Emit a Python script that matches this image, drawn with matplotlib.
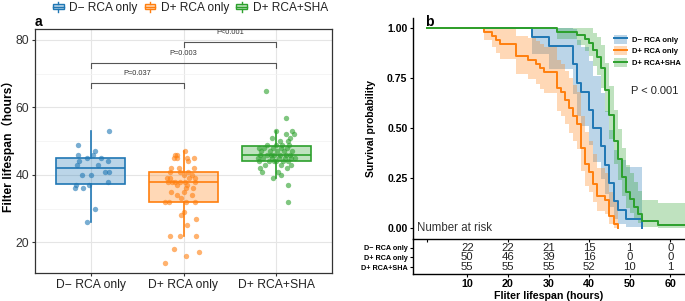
import numpy as np
import matplotlib.pyplot as plt
from matplotlib.colors import to_rgb
from matplotlib.patches import Patch, Rectangle
from matplotlib.lines import Line2D
from matplotlib.legend_handler import HandlerBase

plt.rcParams['font.family'] = ['Liberation Sans', 'Noto Sans CJK SC', 'DejaVu Sans']

# groups and colours (d3 palette)
groups = ['D\u2212 RCA only', 'D+ RCA only', 'D+ RCA+SHA']
colors = ['#1F77B4', '#FF7F0E', '#2CA02C']

# filter lifespan (hours)
life_dm = [53, 49, 46, 47, 46, 45, 45, 44, 43, 44, 41, 41, 40, 40, 38, 37, 36, 36, 37, 30, 26, 43]
jit_dm = [0.195, -0.133, -0.136, 0.043, 0.03, -0.036, 0.116, -0.13, -0.147, 0.188, 0.151, 0.195,
          -0.093, 0.0, 0.188, -0.155, -0.173, -0.079, -0.022, 0.051, -0.039, 0.08]

life_dp = [47, 46, 46, 45, 45, 45, 45, 44, 42, 42, 42, 41, 41, 41, 40, 40,
           39, 39, 39, 39, 38, 38, 38, 38, 38, 38, 37, 37, 36, 36, 35, 35, 34, 34, 33, 32, 32, 32, 32,
           29, 28, 27, 25, 22, 22, 22, 18, 17, 16, 14]
jit_dp = [0.014, -0.094, -0.065, -0.101, -0.065, 0.043, 0.108, 0.05, -0.137, -0.051, 0.115,
          -0.15, -0.036, 0.05, 0.0, 0.09,
          -0.18, -0.144, 0.057, 0.126, -0.166, -0.09, 0.014, 0.119, -0.12, -0.036,
          -0.072, 0.036, 0.022, 0.1, -0.137, 0.007, -0.065, 0.093, -0.025,
          -0.195, -0.159, 0.022, 0.119,
          0.007, -0.025, 0.137, 0.036, -0.144, -0.036, 0.137, -0.101, 0.166, 0.029, -0.202]

life_sha = [65, 57, 53, 53, 52, 52, 51, 51, 50, 50,
            49, 49, 49, 49, 48, 48, 48, 48, 48, 47, 47, 47, 47, 47,
            46, 46, 46, 46, 46, 46, 46, 45, 45, 45, 45, 45, 45, 45,
            44, 44, 44, 44, 44, 44, 43, 43, 43, 42, 42, 41, 41, 40, 39, 37, 32]
jit_sha = [-0.108, 0.1, 0.0, 0.173, 0.187, 0.1, -0.05, 0.15, 0.122, 0.036,
           -0.1, 0.0, 0.06, 0.14, -0.13, -0.04, 0.05, 0.12, -0.19, -0.16, -0.07, 0.01, 0.08, 0.17,
           -0.18, -0.1, -0.02, 0.04, 0.1, 0.15, -0.06, -0.2, -0.14, -0.05, 0.03, 0.09, 0.16, 0.2,
           -0.19, -0.08, 0.0, 0.07, 0.13, -0.03, 0.159, -0.12, 0.05, -0.172, 0.11, -0.158, 0.02,
           0.047, -0.04, 0.124, 0.124]

lifes = [life_dm, life_dp, life_sha]
jits = [jit_dm, jit_dp, jit_sha]

# pairwise comparisons: (group a, group b, bracket height, label)
comparisons = [(1, 2, 67.2, 'P=0.037'), (1, 3, 73.3, 'P=0.003'), (2, 3, 79.3, 'P<0.001')]

risk_times = [10, 20, 30, 40, 50, 60]


class BoxKey(HandlerBase):
    def create_artists(self, legend, orig_handle, xd, yd, w, h, fontsize, trans):
        c = orig_handle.get_edgecolor()
        x0, y0 = -xd, -yd
        bw = w * 0.85
        bx = x0 + (w - bw) / 2
        rect = Rectangle((bx, y0 + h * 0.22), bw, h * 0.56, facecolor=orig_handle.get_facecolor(),
                         edgecolor=c, lw=1.0, transform=trans)
        med = Line2D([bx, bx + bw], [y0 + h / 2] * 2, color=c, lw=1.0, transform=trans)
        wt = Line2D([x0 + w / 2] * 2, [y0 + h * 0.78, y0 + h * 1.05], color=c, lw=1.0, transform=trans)
        wb = Line2D([x0 + w / 2] * 2, [y0 - h * 0.05, y0 + h * 0.22], color=c, lw=1.0, transform=trans)
        return [rect, med, wt, wb]


def km(t):
    t = np.asarray(t, float)
    times = np.unique(t)
    n = np.array([(t >= u).sum() for u in times])
    d = np.array([(t == u).sum() for u in times])
    s = np.cumprod(1 - d / n)
    with np.errstate(divide='ignore', invalid='ignore'):
        se = np.sqrt(np.cumsum(d / (n * (n - d))))
        lo = s * np.exp(-1.96 * se)
        hi = np.minimum(1, s * np.exp(1.96 * se))
    x = np.r_[0, times]
    s = np.r_[1, s]
    lo = np.r_[1, lo]
    hi = np.r_[1, hi]
    for i in range(1, len(x)):
        if s[i] == 0 or not np.isfinite(hi[i]):
            lo[i], hi[i] = lo[i - 1], hi[i - 1]
    return x, s, lo, hi


fig = plt.figure(figsize=(6.85, 3.01), dpi=100)
W, H = 685, 301
axA = fig.add_axes([35 / W, 1 - 273 / H, 297 / W, 244 / H])
axB = fig.add_axes([413 / W, 1 - 239 / H, 272 / W, 221 / H])
axT = fig.add_axes([413 / W, 1 - 274 / H, 272 / W, 35 / H])

# ---------------- panel a ----------------
pos = [1, 2, 3]
for i in range(3):
    c = colors[i]
    bp = axA.boxplot([lifes[i]], positions=[pos[i]], widths=0.75, whis=1.5, showfliers=False,
                     showcaps=False, patch_artist=True, zorder=2)
    for b in bp['boxes']:
        b.set(facecolor=(*to_rgb(c), 0.3), edgecolor=c, lw=1.2)
    for m in bp['medians']:
        m.set(color=c, lw=1.2)
    for wk in bp['whiskers']:
        wk.set(color=c, lw=1.2)
    axA.scatter(pos[i] + np.array(jits[i]), lifes[i], s=15, color=c, alpha=0.6, lw=0, zorder=3)

for a, b, yb, lab in comparisons:
    axA.plot([a, a, b, b], [yb - 1.5, yb, yb, yb - 1.5], color='#555555', lw=0.8, zorder=1)
    axA.text((a + b) / 2, yb + 2.8, lab, ha='center', va='center', fontsize=5.3, color='#333333')

axA.set_xlim(0.4, 3.6)
axA.set_ylim(10.9, 83.26)
axA.set_xticks(pos)
axA.set_xticklabels(groups, fontsize=8.7, color='#222222')
axA.set_yticks([20, 40, 60, 80])
axA.set_yticks([30, 50, 70], minor=True)
axA.tick_params(axis='y', labelsize=8.7, labelcolor='#333333', length=2.5, color='#333333', pad=1.5)
axA.tick_params(axis='y', which='minor', length=0)
axA.tick_params(axis='x', length=2.5, color='#333333', pad=2)
axA.grid(True, which='major', color='#E5E5E5', lw=0.8)
axA.grid(True, which='minor', axis='y', color='#F2F2F2', lw=0.5)
axA.set_axisbelow(True)
for sp in axA.spines.values():
    sp.set_color('#333333')
    sp.set_linewidth(0.9)
axA.set_ylabel('Filter lifespan\uff08hours\uff09', fontsize=8.7, fontweight='bold')
axA.yaxis.set_label_coords(-0.069, 0.53)
fig.text(35 / W, 1 - 22 / H, 'a', fontsize=10, fontweight='bold', va='center', ha='left')

handles = [Patch(facecolor=(*to_rgb(c), 0.3), edgecolor=c) for c in colors]
fig.legend(handles, groups, handler_map={Patch: BoxKey()}, loc='center',
           bbox_to_anchor=(190 / W, 1 - 8 / H), ncol=3, frameon=False, fontsize=8.6,
           handlelength=1.05, handleheight=0.8, handletextpad=0.4, columnspacing=0.5,
           borderpad=0, labelcolor='#222222')

# ---------------- panel b ----------------
xmin, xmax = -3.37, 63.6
lines = []
for i in range(3):
    x, s, lo, hi = km(lifes[i])
    axB.fill_between(x, lo, hi, step='post', color=colors[i], alpha=0.3, lw=0)
    axB.step(x, s, where='post', color=colors[i], lw=1.4)
    lines.append((Patch(facecolor=colors[i], alpha=0.3, lw=0), Line2D([], [], color=colors[i], lw=1.4)))

axB.set_xlim(xmin, xmax)
axB.set_ylim(-0.053, 1.05)
axB.set_yticks([0, 0.25, 0.5, 0.75, 1.0])
axB.set_yticklabels(['0.00', '0.25', '0.50', '0.75', '1.00'], fontsize=7.5, fontweight='bold')
axB.set_xticks([0, 20, 40, 60])
axB.set_xticklabels([])
axB.tick_params(length=2.5, width=0.8, pad=1.5)
for sp in ['top', 'right']:
    axB.spines[sp].set_visible(False)
for sp in ['left', 'bottom']:
    axB.spines[sp].set_linewidth(1.0)
axB.set_ylabel('Survival probability', fontsize=7.5, fontweight='bold', labelpad=8)
axB.text(-2.3, 0, 'Number at risk', fontsize=8.3, color='#333333', va='center', ha='left')
axB.text(50.4, 0.685, 'P < 0.001', fontsize=8, color='#222222', va='center', ha='left')
fig.text(425 / W, 1 - 22 / H, 'b', fontsize=10, fontweight='bold', va='center', ha='left')
axB.legend(lines, groups, loc='upper left', bbox_to_anchor=(0.739, 0.925), frameon=False,
           prop={'size': 5.5, 'weight': 'bold'}, handlelength=1.75, handleheight=1.45,
           labelspacing=0.35, handletextpad=0.55, borderpad=0, borderaxespad=0)

# ---------------- risk table ----------------
rows_y = [0.749, 0.477, 0.191]
for i in range(3):
    arr = np.asarray(lifes[i])
    for t in risk_times:
        axT.text(t, rows_y[i], str(int((arr >= t).sum())), ha='center', va='center',
                 fontsize=8.2, color='#222222')
axT.set_xlim(xmin, xmax)
axT.set_ylim(0, 1)
axT.set_yticks(rows_y)
axT.set_yticklabels(groups, fontsize=5.2, fontweight='bold')
axT.set_xticks(risk_times)
axT.set_xticklabels([str(t) for t in risk_times], fontsize=7.7, fontweight='bold')
axT.tick_params(length=2, width=0.8, pad=1.5)
axT.spines['top'].set_visible(False)
axT.spines['right'].set_visible(False)
axT.spines['left'].set_linewidth(1.0)
axT.spines['bottom'].set_linewidth(1.0)
axT.set_xlabel('Fliter lifespan (hours)', fontsize=7.7, fontweight='bold', labelpad=1.5)
axT.patch.set_alpha(0)

fig.savefig('out.png', dpi=100)
